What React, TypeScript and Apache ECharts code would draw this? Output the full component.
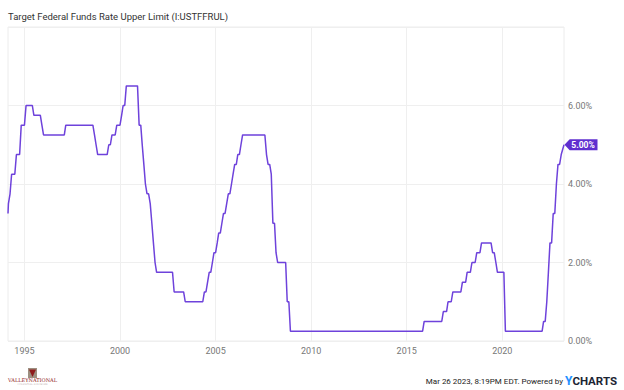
import React, { useEffect, useRef } from "react";
import * as echarts from "echarts";

// Target Federal Funds Rate Upper Limit, month-end levels (%), one row per year
const firstPoint: [string, number] = ["1994-02-21", 3.25];
const start1994 = { year: 1994, month: 3 };
const rates1994to1999 = [
  3.5, 3.75, 4.25, 4.25, 4.25, 4.75, 4.75, 4.75, 5.5, 5.5, // 1994 Mar–Dec
  5.5, 6, 6, 6, 6, 6, 5.75, 5.75, 5.75, 5.75, 5.75, 5.5, // 1995
  5.25, 5.25, 5.25, 5.25, 5.25, 5.25, 5.25, 5.25, 5.25, 5.25, 5.25, 5.25, // 1996
  5.25, 5.25, 5.5, 5.5, 5.5, 5.5, 5.5, 5.5, 5.5, 5.5, 5.5, 5.5, // 1997
  5.5, 5.5, 5.5, 5.5, 5.5, 5.5, 5.5, 5.5, 5.25, 5, 4.75, 4.75, // 1998
  4.75, 4.75, 4.75, 4.75, 4.75, 5, 5, 5.25, 5.25, 5.25, 5.5, 5.5, // 1999
];
const start2000 = { year: 2000, month: 1 };
const rates2000s = [
  5.5, 5.75, 6, 6, 6.5, 6.5, 6.5, 6.5, 6.5, 6.5, 6.5, 6.5, // 2000
  5.5, 5.5, 5, 4.5, 4, 3.75, 3.75, 3.5, 3, 2.5, 2, 1.75, // 2001
  1.75, 1.75, 1.75, 1.75, 1.75, 1.75, 1.75, 1.75, 1.75, 1.75, 1.25, 1.25, // 2002
  1.25, 1.25, 1.25, 1.25, 1.25, 1, 1, 1, 1, 1, 1, 1, // 2003
  1, 1, 1, 1, 1, 1.25, 1.25, 1.5, 1.75, 1.75, 2, 2.25, // 2004
  2.25, 2.5, 2.75, 2.75, 3, 3.25, 3.25, 3.5, 3.75, 3.75, 4, 4.25, // 2005
  4.5, 4.5, 4.75, 4.75, 5, 5.25, 5.25, 5.25, 5.25, 5.25, 5.25, 5.25, // 2006
  5.25, 5.25, 5.25, 5.25, 5.25, 5.25, 5.25, 5.25, 4.75, 4.5, 4.5, 4.25, // 2007
  3, 3, 2.25, 2, 2, 2, 2, 2, 2, 1, 1, 0.25, // 2008
  0.25, 0.25, 0.25, 0.25, 0.25, 0.25, 0.25, 0.25, 0.25, 0.25, 0.25, 0.25, // 2009
];
const start2010 = { year: 2010, month: 1 };
const rates2010s = [
  0.25, 0.25, 0.25, 0.25, 0.25, 0.25, 0.25, 0.25, 0.25, 0.25, 0.25, 0.25, // 2010
  0.25, 0.25, 0.25, 0.25, 0.25, 0.25, 0.25, 0.25, 0.25, 0.25, 0.25, 0.25, // 2011
  0.25, 0.25, 0.25, 0.25, 0.25, 0.25, 0.25, 0.25, 0.25, 0.25, 0.25, 0.25, // 2012
  0.25, 0.25, 0.25, 0.25, 0.25, 0.25, 0.25, 0.25, 0.25, 0.25, 0.25, 0.25, // 2013
  0.25, 0.25, 0.25, 0.25, 0.25, 0.25, 0.25, 0.25, 0.25, 0.25, 0.25, 0.25, // 2014
  0.25, 0.25, 0.25, 0.25, 0.25, 0.25, 0.25, 0.25, 0.25, 0.25, 0.25, 0.5, // 2015
  0.5, 0.5, 0.5, 0.5, 0.5, 0.5, 0.5, 0.5, 0.5, 0.5, 0.5, 0.75, // 2016
  0.75, 0.75, 1, 1, 1, 1.25, 1.25, 1.25, 1.25, 1.25, 1.25, 1.5, // 2017
  1.5, 1.5, 1.75, 1.75, 1.75, 2, 2, 2, 2.25, 2.25, 2.25, 2.5, // 2018
  2.5, 2.5, 2.5, 2.5, 2.5, 2.5, 2.25, 2.25, 2, 1.75, 1.75, 1.75, // 2019
];
const start2020 = { year: 2020, month: 1 };
const rates2020s = [
  1.75, 1.75, 0.25, 0.25, 0.25, 0.25, 0.25, 0.25, 0.25, 0.25, 0.25, 0.25, // 2020
  0.25, 0.25, 0.25, 0.25, 0.25, 0.25, 0.25, 0.25, 0.25, 0.25, 0.25, 0.25, // 2021
  0.25, 0.25, 0.5, 0.5, 1, 1.75, 2.5, 2.5, 3.25, 3.25, 4, 4.5, // 2022
  4.5, 4.75, // 2023 Jan–Feb
];
const latestPoint: [string, number] = ["2023-03-26", 5.0];

const axisStart = "1994-02-21";
const axisEnd = "2023-03-26";
const yearTicks = ["1995", "2000", "2005", "2010", "2015", "2020"];

const title = "Target Federal Funds Rate Upper Limit (I:USTFFRUL)";
const footerText = "Mar 26 2023, 8:19PM EDT. Powered by ";

function monthly(start: { year: number; month: number }, values: number[]) {
  return values.map((v, i) => {
    const m = start.month - 1 + i;
    const y = start.year + Math.floor(m / 12);
    const mm = (m % 12) + 1;
    return [`${y}-${mm < 10 ? "0" + mm : mm}-01`, v];
  });
}

export default function App() {
  const ref = useRef<HTMLDivElement>(null);
  useEffect(() => {
    document.body.style.margin = "0";
    const chart = echarts.init(ref.current!, undefined, { renderer: "svg" });
    const data = [
      firstPoint,
      ...monthly(start1994, rates1994to1999),
      ...monthly(start2000, rates2000s),
      ...monthly(start2010, rates2010s),
      ...monthly(start2020, rates2020s),
      latestPoint,
    ];
    const purple = "#6e42db";
    chart.setOption({
      animation: false,
      textStyle: { fontFamily: "Roboto" },
      grid: {
        left: 8,
        right: 60,
        top: 27,
        bottom: 49,
        show: true,
        borderColor: "#ececec",
        borderWidth: 1,
      },
      xAxis: {
        type: "time",
        min: axisStart,
        max: axisEnd,
        axisLine: { show: false },
        axisTick: { show: false },
        axisLabel: { show: false },
        splitLine: { show: false },
      },
      yAxis: {
        type: "value",
        position: "right",
        min: 0,
        max: 8,
        interval: 2,
        axisLine: { show: false },
        axisTick: { show: false },
        axisLabel: {
          margin: 4,
          color: "#777",
          fontSize: 9,
          fontFamily: "Roboto",
          formatter: (v: number) => (v === 8 ? "" : v.toFixed(2) + "%"),
        },
        splitLine: { lineStyle: { color: "#efefef", width: 1 } },
      },
      series: [
        {
          type: "line",
          data,
          showSymbol: false,
          symbol: "none",
          lineStyle: { color: purple, width: 1.5 },
          z: 3,
          markLine: {
            silent: true,
            symbol: "none",
            lineStyle: { color: "#efefef", width: 1, type: "solid" },
            label: {
              show: true,
              position: "start",
              distance: 5,
              color: "#777",
              fontSize: 9,
              fontFamily: "Roboto",
              formatter: (p: any) => p.name,
            },
            data: yearTicks.map((y) => ({ name: y, xAxis: `${y}-01-01` })),
            z: 1,
          },
          markPoint: {
            silent: true,
            symbol: "path://M0,5 L5,0 L32,0 L32,10 L5,10 Z",
            symbolSize: [33, 11],
            symbolOffset: [17, 0],
            itemStyle: { color: "#5f2fcf" },
            label: {
              show: true,
              position: "inside",
              offset: [2, 0],
              color: "#fff",
              fontSize: 8.5,
              fontWeight: "bold",
              fontFamily: "Roboto",
              formatter: () => latestPoint[1].toFixed(2) + "%",
            },
            data: [{ coord: latestPoint }],
          },
        },
      ],
      graphic: [
        {
          type: "text",
          x: 8,
          y: 16,
          style: {
            text: title,
            fill: "#333",
            font: "9.5px Roboto",
            verticalAlign: "middle",
          },
        },
        {
          type: "text",
          x: 617,
          y: 381,
          style: {
            text: `{a|${footerText}}{y|Y}{c|CHARTS}`,
            align: "right",
            verticalAlign: "middle",
            rich: {
              a: { fill: "#222", fontSize: 8, fontFamily: "Roboto" },
              y: { fill: "#1e90ff", fontSize: 12, fontWeight: "bold", fontFamily: "Roboto" },
              c: { fill: "#1c2433", fontSize: 11.5, fontWeight: "bold", fontFamily: "Roboto" },
            },
          },
        },
        { type: "rect", shape: { x: 28, y: 368, width: 9, height: 10 }, style: { fill: "#9d8f80" } },
        { type: "polygon", shape: { points: [[29, 369.5], [36, 369.5], [32.5, 377]] }, style: { fill: "#8f1c1c" } },
        {
          type: "text",
          x: 32.5,
          y: 380,
          style: {
            text: "VALLEYNATIONAL",
            fill: "#8f1c1c",
            font: "5px 'DejaVu Serif'",
            align: "center",
            verticalAlign: "middle",
          },
        },
        {
          type: "text",
          x: 32.5,
          y: 384,
          style: {
            text: "FINANCIAL ADVISORS",
            fill: "#b9a9a9",
            font: "2.5px 'DejaVu Serif'",
            align: "center",
            verticalAlign: "middle",
          },
        },
      ],
    });
    return () => chart.dispose();
  }, []);
  return <div ref={ref} style={{ width: 624, height: 390 }} />;
}
